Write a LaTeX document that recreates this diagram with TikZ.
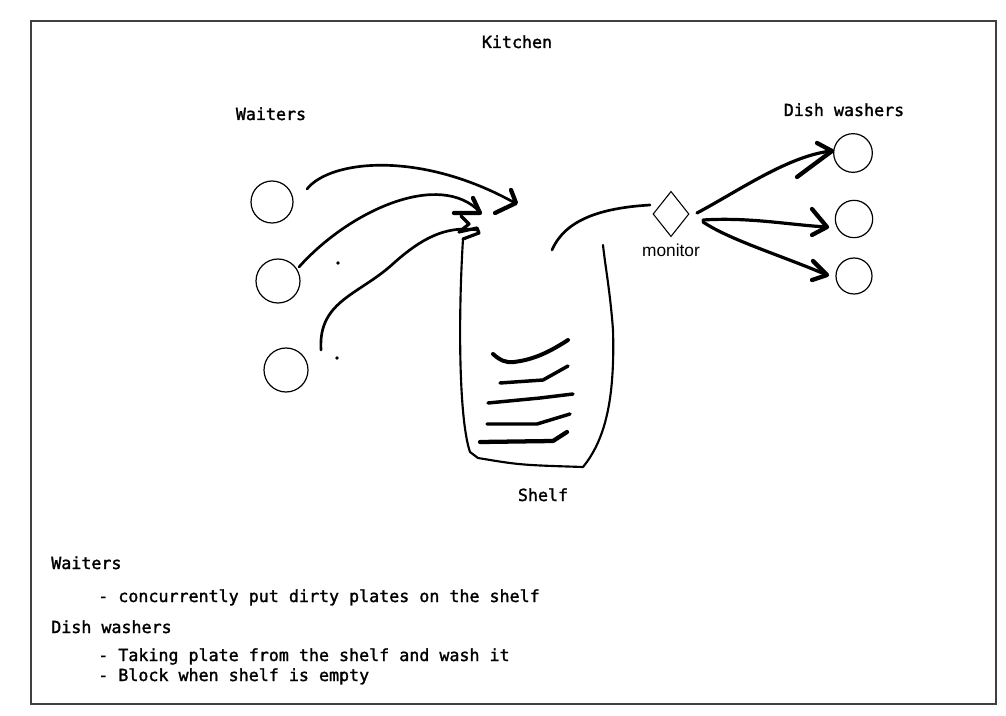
\documentclass[tikz,border=0pt]{standalone}
\usepackage{fontspec}
\setmonofont[FakeBold=1.6]{DejaVu Sans Mono}
\newfontfamily\monitorfont{Liberation Sans}
\usetikzlibrary{shapes.geometric}

\begin{document}
\begin{tikzpicture}[x=0.75pt,y=-0.75pt,
	txt/.style={font=\ttfamily\fontsize{12.5}{15}\selectfont, inner sep=0pt},
	person/.style={circle, draw, line width=0.9pt, inner sep=0pt},
	sketch/.style={line width=2pt, line cap=round, line join=round},
	barb/.style={line width=3.2pt, line cap=round, line join=round},
	plate/.style={line width=3pt, line cap=round, line join=round}]

	% canvas and frame
	\useasboundingbox (0,0) rectangle (1006,716);
	\draw[line width=1.1pt, black!75] (31,21) rectangle (996,704);

	% titles
	\node[txt, anchor=base] (kitchen) at (517,48) {Kitchen};
	\node[txt, anchor=base] (waiters) at (271,120) {Waiters};
	\node[txt, anchor=base] (washers) at (844,116) {Dish washers};
	\node[txt, anchor=base] (shelf) at (543,501) {Shelf};

	% waiters
	\node[person, minimum size=31.5pt] (w1) at (272,202) {};
	\node[person, minimum size=33pt] (w2) at (278,281) {};
	\node[person, minimum size=33pt] (w3) at (286,370) {};
	\fill (338,263) circle (1.4pt);
	\fill (337,358) circle (1.4pt);

	% dish washers
	\node[person, minimum size=29pt] (d1) at (853,153) {};
	\node[person, minimum size=28pt] (d2) at (854,219) {};
	\node[person, minimum size=27pt] (d3) at (854,276) {};

	% monitor
	\node[diamond, draw, line width=0.8pt, minimum width=27pt, minimum height=34pt,
		inner sep=0pt] (monitor) at (671,214) {};
	\node[font=\monitorfont\fontsize{13}{15}\selectfont, inner sep=0pt, anchor=base]
		(monlabel) at (671,257) {monitor};

	% end points of the strokes
	\coordinate (a1) at (307,189);
	\coordinate (b1) at (515,203);
	\coordinate (a2) at (299,267);
	\coordinate (b2) at (480,212);
	\coordinate (a3) at (321,350);
	\coordinate (b3) at (477,230);
	\coordinate (s1) at (552,250);
	\coordinate (s2) at (650,205);
	\coordinate (m1) at (697,213);
	\coordinate (m2) at (703,220);
	\coordinate (m3) at (703,222);
	\coordinate (e1) at (832,151);
	\coordinate (e2) at (827,227);
	\coordinate (e3) at (827,275);

	% waiters to shelf
	\draw[sketch] (a1) .. controls (330,160) and (420,150) .. (b1);
	\draw[sketch] (a2) .. controls (350,210) and (440,170) .. (b2);
	\draw[sketch] (a3) .. controls (318,300) and (360,295) .. (395,262)
		.. controls (420,240) and (445,225) .. (b3);
	\draw[barb] (511,190) -- (516,203) -- (495,213);
	\draw[barb] (473,198) -- (480,213) -- (454,213);
	\draw[sketch, line width=2.4pt] (461,216) -- (469,224) -- (459,232) -- (477,228)
		-- (479,233) -- (463,239);

	% shelf
	\draw[sketch, line width=1.6pt] (463,239) .. controls (458,320) and (459,420) .. (470,452)
		-- (478,458) .. controls (520,465) .. (583,467)
		.. controls (605,440) and (615,400) .. (613,330)
		.. controls (610,290) and (605,265) .. (603,245);
	\draw[sketch] (s1) .. controls (565,220) and (600,208) .. (s2);

	% plates on the shelf
	\draw[plate] (493,354) .. controls (500,360) and (505,363) .. (514,362)
		.. controls (530,360) and (545,355) .. (568,340);
	\draw[plate, line width=2.6pt] (500,383) -- (543,380) -- (568,366);
	\draw[plate, line width=2.6pt] (488,403) -- (540,398) -- (573,394);
	\draw[plate, line width=2.6pt] (487,424) -- (537,424) -- (570,414);
	\draw[plate, line width=3.2pt] (480,442) -- (553,441) -- (567,432);

	% monitor to dish washers
	\draw[sketch, line width=2.4pt] (m1) .. controls (740,190) and (790,155) .. (e1);
	\draw[sketch, line width=2.4pt] (m2) .. controls (750,217) and (790,225) .. (e2);
	\draw[sketch, line width=2.4pt] (m3) .. controls (730,240) and (780,255) .. (e3);
	\draw[barb] (817,143) -- (832,151) -- (797,177);
	\draw[barb] (812,209) -- (827,227) -- (812,235);
	\draw[barb] (813,261) -- (827,275) -- (812,280);

	% notes
	\node[txt, anchor=base west] (note1) at (51,569) {Waiters};
	\node[txt, anchor=base west] (note2) at (98,602) {- concurrently put dirty plates on the shelf};
	\node[txt, anchor=base west] (note3) at (51,633) {Dish washers};
	\node[txt, anchor=base west] (note4) at (98,661) {- Taking plate from the shelf and wash it};
	\node[txt, anchor=base west] (note5) at (98,681) {- Block when shelf is empty};

\end{tikzpicture}
\end{document}
